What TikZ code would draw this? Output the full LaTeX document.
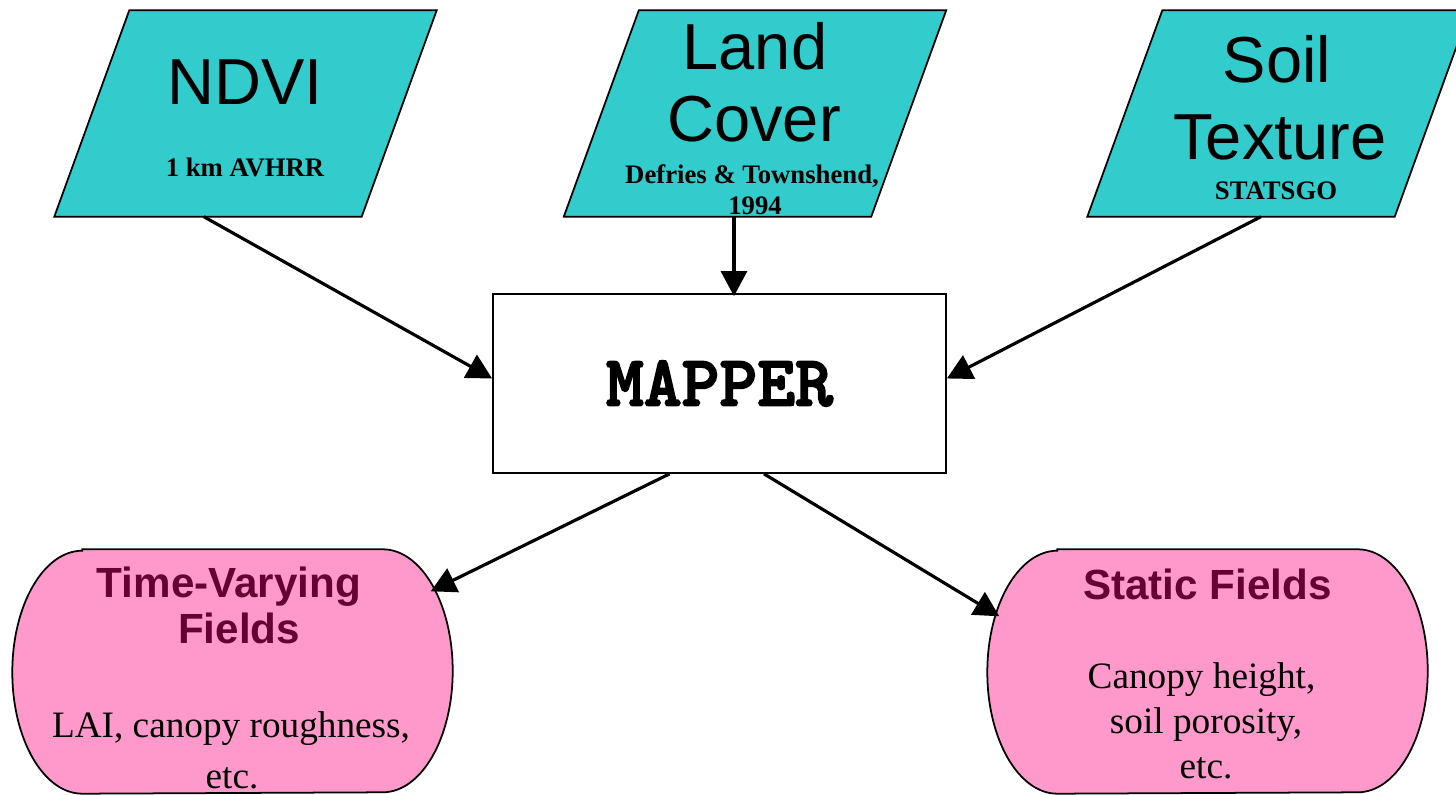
\documentclass[tikz,border=0pt]{standalone}
\usepackage{fontspec}
\setmainfont{Liberation Serif}
\setsansfont{Liberation Sans}
\newfontfamily\mapperfont{lmmonolt10-bold.otf}[FakeBold=2.5]
\usetikzlibrary{arrows.meta,calc}
\definecolor{datacyan}{HTML}{33CCCC}
\definecolor{fieldpink}{HTML}{FF99CC}
\definecolor{fieldtext}{HTML}{660033}
% parallelogram outline round a (rectangular, empty) node
\newcommand{\datashape}[1]{%
  \draw[fill=datacyan,line width=0.5pt] ($(#1.north west)+(0.75,0)$) -- (#1.north east)
    -- ($(#1.south east)+(-0.75,0)$) -- (#1.south west) -- cycle;}
% terminator outline round a (rectangular, empty) node
\newcommand{\fieldshape}[1]{%
  \draw[fill=fieldpink,line width=0.5pt] ($(#1.north west)+(0.7,0)$) -- ($(#1.north east)+(-0.7,0)$)
    arc[start angle=90,end angle=-90,x radius=0.7,y radius=1.215]
    -- ($(#1.south west)+(0.7,0)$)
    arc[start angle=270,end angle=90,x radius=0.7,y radius=1.215] -- cycle;}

\begin{document}
\begin{tikzpicture}[
    databox/.style={rectangle,minimum width=3.81cm,minimum height=2.05cm,inner sep=0pt},
    bigtxt/.style={anchor=base,font=\sffamily\fontsize{18.5}{22}\selectfont},
    subtxt/.style={anchor=base,font=\bfseries\fontsize{7.6}{9}\selectfont},
    fieldbox/.style={rectangle,minimum width=4.39cm,minimum height=2.43cm,inner sep=0pt},
    headtxt/.style={anchor=base,text=fieldtext,font=\sffamily\bfseries\fontsize{12}{14}\selectfont},
    bodytxt/.style={anchor=base,font=\fontsize{10.6}{12.7}\selectfont},
    flow/.style={line width=0.9pt,-{Triangle[length=0.25cm,width=0.26cm]}}
  ]
  \useasboundingbox (0,0) rectangle (14.56,7.94);
  % inputs
  \node[databox] (ndvi) at (2.455,6.805) {};
  \node[databox] (land) at (7.55,6.805) {};
  \node[databox] (soil) at (12.785,6.805) {};
  \datashape{ndvi}
  \datashape{land}
  \datashape{soil}
  \node[bigtxt] (ndvi-t) at (2.45,6.89) {NDVI};
  \node[subtxt] (ndvi-s) at (2.45,6.17) {1 km AVHRR};
  \node[bigtxt] (land-t1) at (7.55,7.24) {Land};
  \node[bigtxt] (land-t2) at (7.54,6.52) {Cover};
  \node[subtxt] (land-s1) at (7.52,6.10) {Defries \& Townshend,};
  \node[subtxt] (land-s2) at (7.55,5.79) {1994};
  \node[bigtxt] (soil-t1) at (12.77,7.11) {Soil};
  \node[bigtxt] (soil-t2) at (12.80,6.34) {Texture};
  \node[subtxt] (soil-s) at (12.76,5.94) {STATSGO};
  % mapper
  \node[draw,line width=0.5pt,minimum width=4.53cm,minimum height=1.79cm,
    font=\mapperfont\fontsize{20.5}{22}\selectfont] (mapper) at (7.195,4.105) {MAPPER};
  % outputs
  \node[fieldbox] (tvf) at (2.325,1.225) {};
  \node[fieldbox] (stf) at (12.075,1.225) {};
  \fieldshape{tvf}
  \fieldshape{stf}
  \node[headtxt] (tvf-h1) at (2.29,1.97) {Time-Varying};
  \node[headtxt] (tvf-h2) at (2.39,1.51) {Fields};
  \node[bodytxt] (tvf-b1) at (2.31,0.57) {LAI, canopy roughness,};
  \node[bodytxt] (tvf-b2) at (2.32,0.06) {etc.};
  \node[headtxt] (stf-h) at (12.075,1.95) {Static Fields};
  \node[bodytxt] (stf-b1) at (12.015,1.06) {Canopy height,};
  \node[bodytxt] (stf-b2) at (12.06,0.61) {soil porosity,};
  \node[bodytxt] (stf-b3) at (12.06,0.16) {etc.};
  % connectors
  \draw[flow] ($(ndvi.south west)!0.391!(ndvi.south east)$) -- ($(mapper.west)+(0,0.05)$);
  \coordinate (land-out) at ($(land.south west)!0.445!(land.south east)$);
  \draw[flow] (land-out) -- ($(land-out |- mapper.north)+(0,-0.03)$);
  \draw[flow] ($(soil.south west)!0.454!(soil.south east)$) -- ($(mapper.east)+(0,0.05)$);
  \draw[flow] ($(mapper.south)+(-0.5,0)$) -- ($(tvf.north east)+(-0.22,-0.42)$);
  \draw[flow] ($(mapper.south)+(0.445,0)$) -- ($(stf.north west)+(0.12,-0.67)$);
\end{tikzpicture}
\end{document}
